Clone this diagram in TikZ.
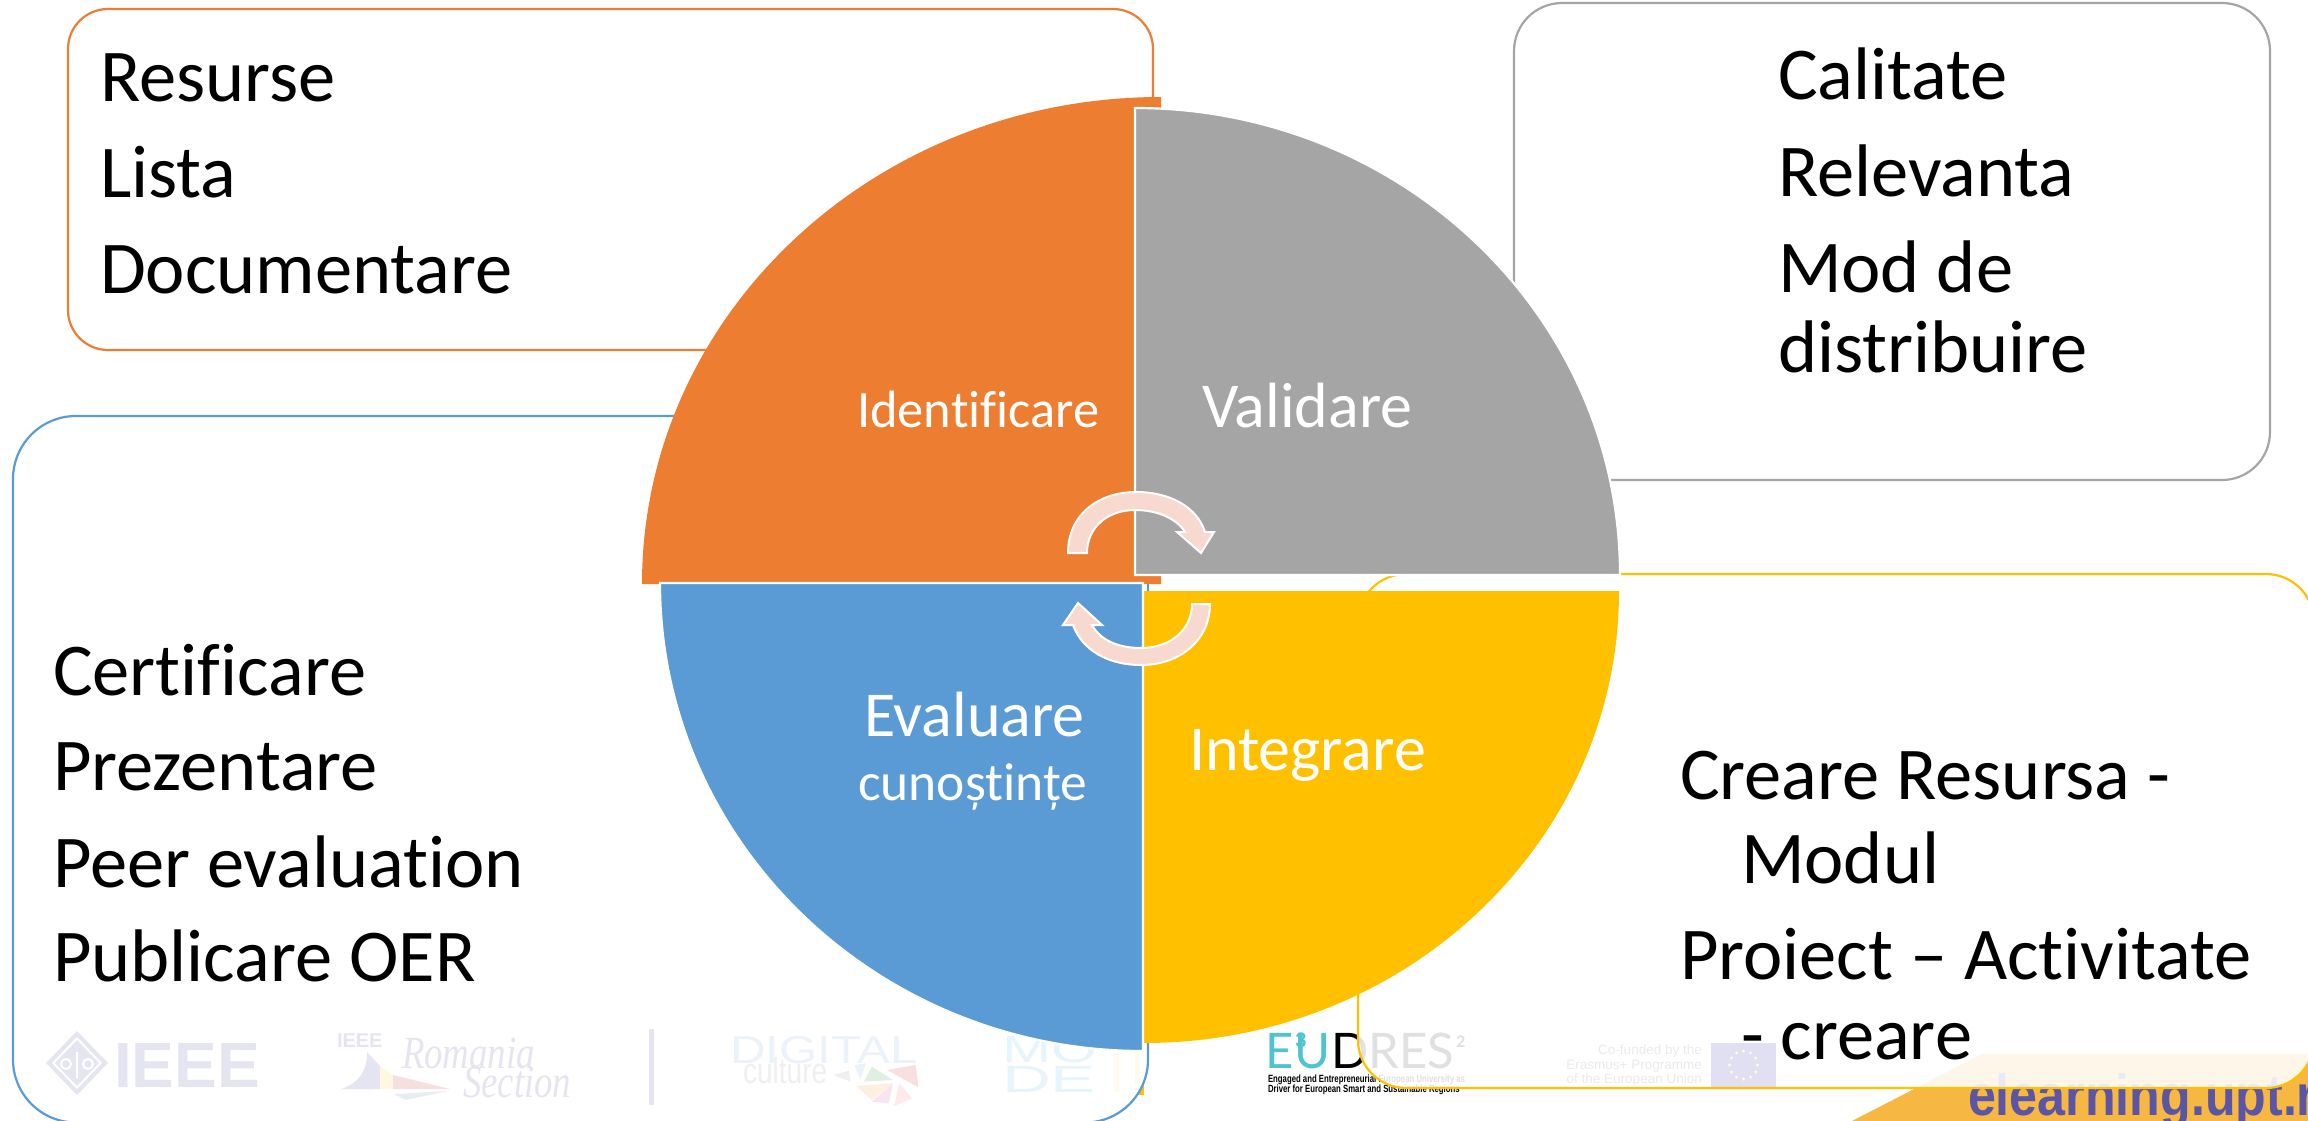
\documentclass[tikz,border=0pt]{standalone}
\usepackage{fontspec}
\setmainfont{Carlito}[Ligatures=NoCommon]
\newfontfamily\lsans{Liberation Sans}
\newfontfamily\lserif{Liberation Serif}
\newfontfamily\lato{Lato}
\definecolor{cOrange}{HTML}{ED7D31}
\definecolor{cGray}{HTML}{A5A5A5}
\definecolor{cBlue}{HTML}{5B9BD5}
\definecolor{cYellow}{HTML}{FFC000}
\definecolor{cArrow}{HTML}{F8D9CF}
\definecolor{cIEEE}{HTML}{2F2F93}
\definecolor{cBanner}{HTML}{F7B843}
\definecolor{cUPT}{HTML}{5B55A5}
\definecolor{cTeal}{HTML}{4FC4CF}
\definecolor{cMode}{HTML}{35ABE5}
\definecolor{cDigi}{HTML}{5E9BD0}
\tikzset{
  x=1pt,y=-1pt,
  txt/.style={anchor=base west,inner sep=0pt,outer sep=0pt,text=black,font=\fontsize{74.5}{80}\selectfont},
  wtxt/.style={anchor=base west,inner sep=0pt,outer sep=0pt,text=white,font=\fontsize{#1}{#1}\selectfont},
  wm/.style={anchor=base west,inner sep=0pt,outer sep=0pt,text=#1},
  box/.style={draw=#1,line width=2.2pt,fill=white,fill opacity=.88,draw opacity=1,rounded corners=48pt},
  turn/.style={fill=cArrow,draw=white,line width=2pt,line join=miter},
}
\begin{document}
\begin{tikzpicture}
\useasboundingbox (0,0) rectangle (2308,1121);
\fill[white] (0,0) rectangle (2308,1121);
% --- faint footer logos
% IEEE
\fill[cIEEE] (77,1031) -- (108,1063) -- (77,1095) -- (46,1063) -- cycle;
\fill[white] (77,1037) -- (102,1063) -- (77,1089) -- (52,1063) -- cycle;
\fill[cIEEE] (77,1040) -- (99,1063) -- (77,1086) -- (55,1063) -- cycle;
\draw[white,line width=2pt] (77,1052) -- (77,1078) (66,1064) ellipse [x radius=5,y radius=5] (88,1064) ellipse [x radius=5,y radius=5];
\node[wm=cIEEE,font=\lsans\bfseries\fontsize{64}{64}\selectfont] (ieee) at (114,1087) {\scalebox{1.0}[1]{IEEE}};
% Romania Section
\node[wm=cIEEE,font=\lsans\bfseries\fontsize{20}{20}\selectfont] (ieeesmall) at (337,1047) {IEEE};
\node[wm=cIEEE,font=\lserif\itshape\fontsize{46}{46}\selectfont] (romania) at (402,1068) {\scalebox{.8}[1]{Romania}};
\node[wm=cIEEE,font=\lserif\itshape\fontsize{46}{46}\selectfont] (section) at (463,1097) {\scalebox{.8}[1]{Section}};
\fill[cIEEE] (367,1052) .. controls (368,1070) and (358,1084) .. (341,1089) -- (380,1089) -- (380,1066) -- cycle;
\fill[cYellow] (380,1066) -- (393,1075) -- (393,1089) -- (380,1089) -- cycle;
\fill[red!70!black] (393,1075) -- (450,1089) -- (393,1089) -- cycle;
\fill[cDigi!70!black] (394,1094) -- (448,1091) -- (406,1100) -- cycle;
\fill[cIEEE] (649,1029) rectangle (654,1105);
% Digital culture
\node[wm=cDigi,font=\lsans\fontsize{39}{39}\selectfont] (digital) at (730,1063) {\scalebox{1.26}[1]{DIGITAL}};
\node[wm=gray,font=\lsans\fontsize{36}{36}\selectfont] (culture) at (743,1083) {\scalebox{.78}[1]{culture}};
\begin{scope}[shift={(600,1000)},x=.3827pt,y=-.3333pt]
\fill[cDigi] (665,195) -- (695,190) -- (680,240) -- cycle;
\fill[green!50!black] (710,200) -- (765,240) -- (690,245) -- cycle;
\fill[red!80!black] (750,210) -- (825,195) -- (832,262) -- cycle;
\fill[orange] (670,258) -- (765,250) -- (710,300) -- cycle;
\fill[magenta!80!black] (765,250) -- (755,310) -- (710,305) -- cycle;
\fill[red!70] (782,250) -- (815,295) -- (768,318) -- cycle;
\fill[gray] (610,225) -- (650,212) -- (655,245) -- cycle;
\end{scope}
% MO DE
\node[wm=cMode,font=\lsans\fontsize{38}{38}\selectfont] (mo) at (1002,1062) {\scalebox{1.55}[1]{MO}};
\node[wm=cMode,font=\lsans\fontsize{38}{38}\selectfont] (de) at (1002,1092) {\scalebox{1.78}[1]{DE}};
\fill[cYellow!60] (1114,1053) rectangle (1119,1092);
\fill[cYellow!60] (1135,1053) rectangle (1140,1084);
\fill[cYellow] (1138,1084) rectangle (1144,1095);
% E3UDRES2
\node[wm=cTeal,font=\lato\fontsize{49}{49}\selectfont] (e) at (1265,1068) {E};
\node[wm=cTeal,font=\lato\fontsize{49}{49}\selectfont] (u) at (1294,1068) {U};
\node[wm=cTeal,font=\lato\bfseries\fontsize{20}{20}\selectfont] (three) at (1295,1047) {3};
\node[wm=black,font=\lato\fontsize{49}{49}\selectfont] (dres) at (1331,1068) {DRES};
\node[wm=black,font=\lato\bfseries\fontsize{16}{16}\selectfont] (two) at (1456,1047) {2};
\node[wm=black,font=\lsans\bfseries\fontsize{10.5}{10.5}\selectfont] (e3a) at (1268,1082) {\scalebox{.74}[1]{Engaged and Entrepreneurial European University as}};
\node[wm=black,font=\lsans\bfseries\fontsize{10.5}{10.5}\selectfont] (e3b) at (1268,1092) {\scalebox{.74}[1]{Driver for European Smart and Sustainable Regions}};
% Co-funded
\node[anchor=base east,inner sep=0pt,text=gray!70!black,font=\lsans\fontsize{13.5}{13.5}\selectfont] (cf1) at (1702,1054) {Co-funded by the};
\node[anchor=base east,inner sep=0pt,text=gray!70!black,font=\lsans\fontsize{13.5}{13.5}\selectfont] (cf2) at (1702,1069) {Erasmus+ Programme};
\node[anchor=base east,inner sep=0pt,text=gray!70!black,font=\lsans\fontsize{13.5}{13.5}\selectfont] (cf3) at (1702,1083) {of the European Union};
\fill[blue!60!black] (1711,1043) rectangle (1776,1087);
\foreach \a in {0,30,...,330} \fill[yellow] ({1743.5+14*cos(\a)},{1065+14*sin(\a)}) circle [radius=1.6];
% Banner
\fill[cBanner] (1982,1054) -- (2308,1054) -- (2308,1121) -- (1852,1121) -- cycle;
\node[wm=cUPT,font=\lsans\bfseries\fontsize{58}{58}\selectfont] (upt) at (1968,1115) {\scalebox{.865}[1]{elearning.upt.ro}};
% --- text boxes
\draw[box=cBlue,rounded corners=63pt] (13,416) rectangle (1148,1122.5);
\draw[box=cOrange,rounded corners=40pt] (68,9) rectangle (1153,350);
\draw[box=cGray] (1514,3) rectangle (2270,480);
\draw[box=cYellow] (1358,574) rectangle (2314,1088);
% --- quarters
\fill[cOrange] (1161,584) -- (642,584) .. controls (642,315) and (874,97) .. (1161,97) -- cycle;
\fill[cYellow] (1144,591) -- (1619,591) .. controls (1619,841) and (1406,1043) .. (1144,1043) -- cycle;
\filldraw[fill=cGray,draw=white,line width=2.2pt] (1135,575) -- (1135,108) .. controls (1402,108) and (1620,316) .. (1620,575) -- cycle;
\filldraw[fill=cBlue,draw=white,line width=2.2pt] (1143,583) -- (660,583) .. controls (660,841) and (876,1051) .. (1143,1051) -- cycle;
% --- circular arrows
\filldraw[turn] (1068,553) .. controls (1068,515) and (1098,492) .. (1136,492) .. controls (1170,492) and (1197,507) .. (1205,532) -- (1214,532) -- (1201,553) -- (1177,532) -- (1185,532) .. controls (1177,519) and (1158,510) .. (1135,510) .. controls (1108,510) and (1087,527) .. (1087,553) -- cycle;
\filldraw[turn] (1210,604) .. controls (1210,640) and (1180,665) .. (1141,665) .. controls (1108,665) and (1082,650) .. (1073,625) -- (1063,625) -- (1078,603) -- (1102,625) -- (1092,625) .. controls (1100,640) and (1118,648) .. (1141,648) .. controls (1170,648) and (1192,630) .. (1192,604) -- cycle;
% --- labels
\node[txt] (t1) at (100,102) {Resurse};
\node[txt] (t2) at (100,197) {Lista};
\node[txt] (t3) at (100,293) {Documentare};
\node[txt] (g1) at (1778,100) {Calitate};
\node[txt] (g2) at (1778,196) {Relevanta};
\node[txt] (g3) at (1778,292) {Mod de};
\node[txt] (g4) at (1778,372) {distribuire};
\node[txt] (b1) at (53,695) {Certificare};
\node[txt] (b2) at (53,790) {Prezentare};
\node[txt] (b3) at (53,887) {Peer evaluation};
\node[txt] (b4) at (53,981) {Publicare OER};
\node[txt] (y1) at (1680,799) {Creare Resursa -};
\node[txt] (y2) at (1741,883) {Modul};
\node[txt] (y3) at (1680,979) {Proiect – Activitate};
\node[txt] (y4) at (1741,1059) {- creare};
\node[wtxt=52.5] (lid) at (857,427) {Identificare};
\node[wtxt=64] (lval) at (1202,427) {Validare};
\node[wtxt=64] (lint) at (1189,770) {Integrare};
\node[wtxt=64] (lev) at (864,736) {Evaluare};
\node[wtxt=53.5] (lcun) at (858,800) {cunoștințe};
\end{tikzpicture}
\end{document}
